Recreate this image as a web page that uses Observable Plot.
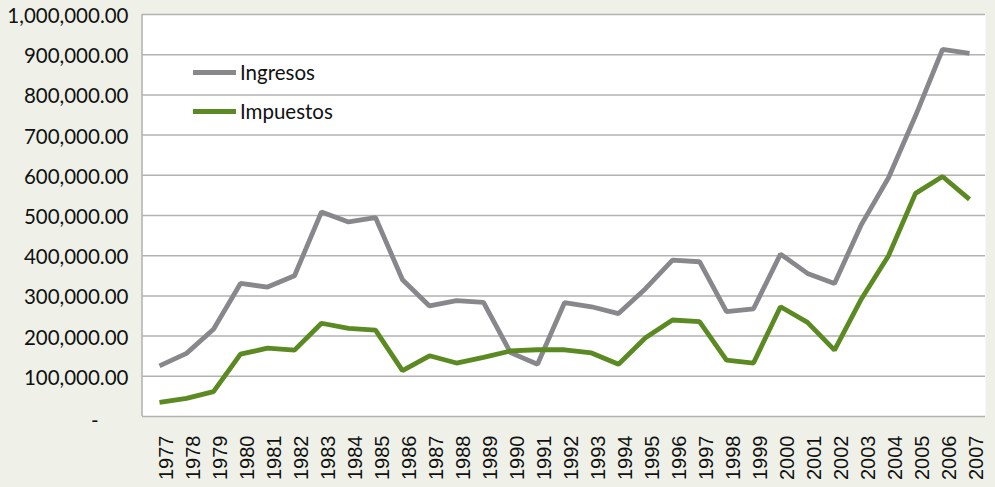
<!DOCTYPE html>
<html>
<head>
<meta charset="utf-8">
<script src="https://cdn.jsdelivr.net/npm/d3@7"></script>
<script src="https://cdn.jsdelivr.net/npm/@observablehq/plot@0.6"></script>
<style>
  html, body { margin: 0; padding: 0; background: #eff1e9; }
  #wrap { position: relative; width: 995px; height: 487px; overflow: hidden; }
  .legend { position: absolute; left: 193px; font-family: Lato, "Open Sans", sans-serif; font-size: 20.5px; color: #111; display: flex; align-items: center; }
  .legend .sw { width: 43px; height: 5px; margin-right: 4px; }
</style>
</head>
<body>
<div id="wrap"></div>
<script>
const years = ["1977","1978","1979","1980","1981","1982","1983","1984","1985","1986","1987","1988","1989","1990","1991","1992","1993","1994","1995","1996","1997","1998","1999","2000","2001","2002","2003","2004","2005","2006","2007"];
const ingresos = [126000,157000,217000,331000,322000,350000,509000,484000,495000,340000,275000,288000,284000,159000,130000,283000,273000,256000,318000,389000,385000,261000,268000,404000,356000,331000,478000,594000,748000,913000,903000];
const impuestos = [35000,45000,62000,155000,170000,165000,232000,219000,215000,114000,151000,133000,147000,163000,166000,166000,158000,130000,196000,240000,236000,140000,133000,273000,234000,165000,293000,400000,555000,597000,540000];
const yTicks = [0,100000,200000,300000,400000,500000,600000,700000,800000,900000,1000000];
const seriesNames = ["Ingresos","Impuestos"];
const seriesColors = ["#88888c","#5b8a23"];

const rows = [];
years.forEach((yr, i) => {
  rows.push({year: yr, value: ingresos[i], serie: seriesNames[0]});
  rows.push({year: yr, value: impuestos[i], serie: seriesNames[1]});
});

const fmt = d => d === 0 ? "-" : d3.format(",.2f")(d);

const chart = Plot.plot({
  width: 995,
  height: 487,
  marginLeft: 142,
  marginRight: 10,
  marginTop: 14,
  marginBottom: 71,
  style: {background: "transparent", overflow: "visible"},
  x: {type: "point", domain: years, padding: 0.42},
  y: {domain: [0, 1000000]},
  color: {domain: seriesNames, range: seriesColors},
  marks: [
    Plot.frame({fill: "white", stroke: "none"}),
    Plot.gridY(yTicks, {stroke: "#b2b2b2", strokeOpacity: 1, strokeWidth: 1.5}),
    Plot.axisY(yTicks, {tickSize: 0, tickPadding: 14, tickFormat: fmt, fontSize: 20.5, fontFamily: "Lato, 'Open Sans', sans-serif", fill: "#111", label: null, dy: 2}),
    Plot.axisX({tickSize: 0, tickRotate: -90, tickPadding: 19, dx: 7, fontSize: 20, fontFamily: "'Liberation Sans', Arial, sans-serif", fill: "#111", label: null}),
    Plot.line(rows, {x: "year", y: "value", z: "serie", stroke: "serie", strokeWidth: 4.8, strokeLinejoin: "miter", strokeLinecap: "butt"})
  ]
});

document.getElementById("wrap").appendChild(chart);

// left axis line
const svg = d3.select(chart);
svg.append("line")
  .attr("x1", 142).attr("x2", 142).attr("y1", 14).attr("y2", 416)
  .attr("stroke", "#b2b2b2").attr("stroke-width", 1.5);

// shift "-" like Excel accounting format
svg.selectAll("text").filter(function(){ return this.textContent === "-"; })
  .attr("dx", -30).attr("dy", 3);

// legend
const wrap = document.getElementById("wrap");
seriesNames.forEach((name, i) => {
  const div = document.createElement("div");
  div.className = "legend";
  div.style.top = (60 + i * 39) + "px";
  div.innerHTML = `<span class="sw" style="background:${seriesColors[i]}"></span><span>${name}</span>`;
  wrap.appendChild(div);
});
</script>
</body>
</html>
